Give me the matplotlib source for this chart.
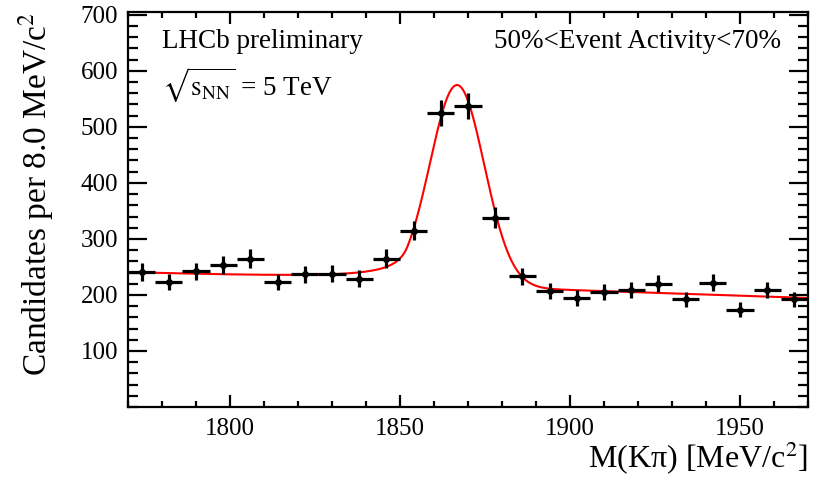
import numpy as np
import matplotlib
matplotlib.use('Agg')
import matplotlib.pyplot as plt
from matplotlib.ticker import MultipleLocator

plt.rcParams['font.family'] = ['Liberation Serif', 'DejaVu Serif']
plt.rcParams['mathtext.fontset'] = 'stix'

# ==========================================
# 数据: M(Kπ) 直方图, 8 MeV/c^2 一个 bin
# ==========================================
bin_width = 8.0
mass_centers = np.arange(1774, 1970, 8)
counts = [241, 223, 242, 253, 265, 223, 237, 238, 229, 265, 315, 525, 538,
          338, 233, 207, 195, 206, 209, 220, 192, 222, 174, 209, 192]

# 拟合结果 (Crystal Ball 信号 + 线性本底), 从图上估计
cb_mean = 1866.8
cb_sigma = 8.0
cb_alpha = 1.82
cb_n = 0.8
cb_peak = 359.0
bkg_ref_mass = 1919.0
bkg_ref_value = 205.0
bkg_slope = -0.204


def crystal_ball(x, mean, sigma, alpha, n):
    z = (x - mean) / sigma
    A = (n / alpha) ** n * np.exp(-alpha ** 2 / 2)
    B = n / alpha - alpha
    out = np.exp(-z ** 2 / 2)
    tail = z <= -alpha
    out[tail] = A * (B - z[tail]) ** (-n)
    return out


x_fit = np.linspace(1770, 1970, 1000)
y_fit = cb_peak * crystal_ball(x_fit, cb_mean, cb_sigma, cb_alpha, cb_n) \
    + bkg_ref_value + bkg_slope * (x_fit - bkg_ref_mass)

counts = np.array(counts, dtype=float)
yerr = np.sqrt(counts)

fig = plt.figure(figsize=(8.22, 4.83), dpi=100)
ax = fig.add_axes([128 / 822, 1 - 407 / 483, 680 / 822, 395 / 483])

ax.plot(x_fit, y_fit, color='red', lw=1.5, zorder=2)
ax.errorbar(mass_centers, counts, xerr=bin_width / 2, yerr=yerr, fmt='o',
            color='black', ms=4, elinewidth=2.3, capsize=0, zorder=3)

ax.set_xlim(1770, 1970)
ax.set_ylim(0, 705)
ax.xaxis.set_major_locator(MultipleLocator(50))
ax.xaxis.set_minor_locator(MultipleLocator(10))
ax.yaxis.set_minor_locator(MultipleLocator(20))
ax.set_yticks([100, 200, 300, 400, 500, 600, 700])

for s in ax.spines.values():
    s.set_linewidth(1.6)
ax.tick_params(axis='both', which='both', direction='in', top=True, right=True,
               width=1.6, labelsize=18, colors='black')
ax.tick_params(axis='y', which='major', length=14, pad=7)
ax.tick_params(axis='y', which='minor', length=7)
ax.tick_params(axis='x', which='major', length=8.5, pad=8)
ax.tick_params(axis='x', which='minor', length=4.3)

ax.set_xlabel(r'M(Kπ) [MeV/c$^{2}$]', fontsize=23, loc='right', labelpad=0)
ax.set_ylabel(r'Candidates per 8.0 MeV/c$^{2}$', fontsize=24, loc='top', labelpad=18)

ax.text(0.05, 0.958, 'LHCb preliminary', transform=ax.transAxes,
        fontsize=19.5, ha='left', va='top')
ax.text(0.05, 0.865, r'$\sqrt{\mathrm{s}_{\rm NN}}$ = 5 TeV', transform=ax.transAxes,
        fontsize=19.5, ha='left', va='top')
ax.text(0.961, 0.958, '50%<Event Activity<70%', transform=ax.transAxes,
        fontsize=19.5, ha='right', va='top')

fig.savefig('out.png', dpi=100)
